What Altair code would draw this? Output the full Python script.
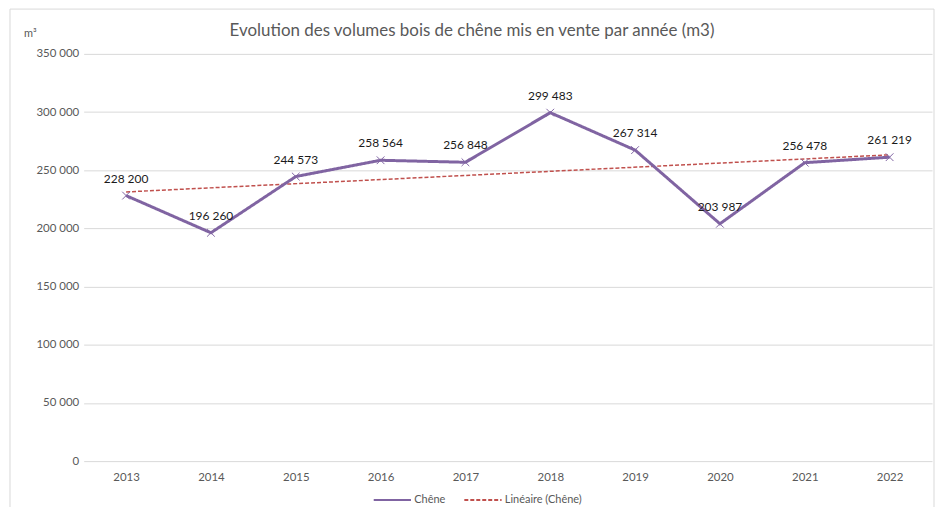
import altair as alt
import pandas as pd

annees = [2013, 2014, 2015, 2016, 2017, 2018, 2019, 2020, 2021, 2022]
volumes = [228200, 196260, 244573, 258564, 256848, 299483, 267314, 203987, 256478, 261219]
y_ticks = [0, 50000, 100000, 150000, 200000, 250000, 300000, 350000]
series_names = ["Chêne", "Linéaire (Chêne)"]
series_colors = ["#8064A2", "#C0504D"]

df = pd.DataFrame({"annee": annees, "volume": volumes, "serie": series_names[0]})

FONT = "Lato"
GREY = "#595959"

x_enc = alt.X("annee:Q",
              scale=alt.Scale(domain=[2012.5, 2022.5], nice=False, zero=False),
              axis=alt.Axis(values=annees, format="d", grid=False, domain=False, ticks=False,
                            labelPadding=10, labelFontSize=11.5, labelColor=GREY, labelFont=FONT,
                            title=None))
y_enc = alt.Y("volume:Q",
              scale=alt.Scale(domain=[0, 350000], nice=False),
              axis=alt.Axis(values=y_ticks, domain=False, ticks=False, labelPadding=5,
                            labelFontSize=11.5, labelColor=GREY, labelFont=FONT,
                            gridColor="#D9D9D9", gridWidth=1,
                            labelExpr="replace(format(datum.value, ','), ',', ' ')",
                            title="m³", titleAngle=0, titleX=-54, titleY=-20,
                            titleAlign="center", titleBaseline="middle",
                            titleFontSize=11, titleFontWeight="normal", titleColor=GREY,
                            titleFont=FONT))

color_scale = alt.Scale(domain=series_names, range=series_colors)
dash_scale = alt.Scale(domain=series_names, range=[[1, 0], [4, 2]])

base = alt.Chart(df)

frame = base.mark_rect(fill=None, stroke="#D9D9D9", strokeWidth=1).encode(
    x=alt.value(-74), x2=alt.value(854), y=alt.value(-45), y2=alt.value(460)
).transform_filter("datum.annee == 2013")

trend = base.transform_regression("annee", "volume").transform_calculate(
    serie="'Linéaire (Chêne)'"
).mark_line(strokeWidth=1.5).encode(
    x=x_enc, y=y_enc,
    color=alt.Color("serie:N", scale=color_scale,
                    legend=alt.Legend(orient="none", legendX=290, legendY=428,
                                      direction="horizontal", title=None,
                                      symbolType="stroke", symbolSize=1400,
                                      symbolStrokeWidth=2, labelFontSize=11,
                                      labelColor=GREY, labelFont=FONT,
                                      columnPadding=14, labelOffset=2)),
    strokeDash=alt.StrokeDash("serie:N", scale=dash_scale, legend=None),
)

line = base.mark_line(strokeWidth=3).encode(
    x=x_enc, y=y_enc,
    color=alt.Color("serie:N", scale=color_scale),
    strokeDash=alt.StrokeDash("serie:N", scale=dash_scale, legend=None),
)

points = base.mark_point(shape="M-1,-1L1,1M-1,1L1,-1", filled=False, size=60,
                         strokeWidth=1, color="#8064A2", opacity=1).encode(
    x=x_enc, y=y_enc)

labels = base.transform_calculate(
    lab="replace(format(datum.volume, ','), ',', ' ')"
).mark_text(dy=-17, fontSize=12, color="#1a1a1a", font=FONT).encode(
    x=x_enc, y=y_enc, text="lab:N")

chart = alt.layer(frame, trend, line, points, labels).properties(
    width=852, height=409,
    padding={"left": 76, "top": 45, "right": 4, "bottom": 45},
    autosize=alt.AutoSizeParams(type="none"),
    title=alt.Title("Evolution des volumes bois de chêne mis en vente par année (m3)",
                    fontSize=17, fontWeight="normal", color=GREY, font=FONT,
                    anchor="middle", dx=-36, dy=22, offset=-10),
).configure_view(stroke=None)

chart.save("out.html", embed_options={"renderer": "svg", "actions": False})
